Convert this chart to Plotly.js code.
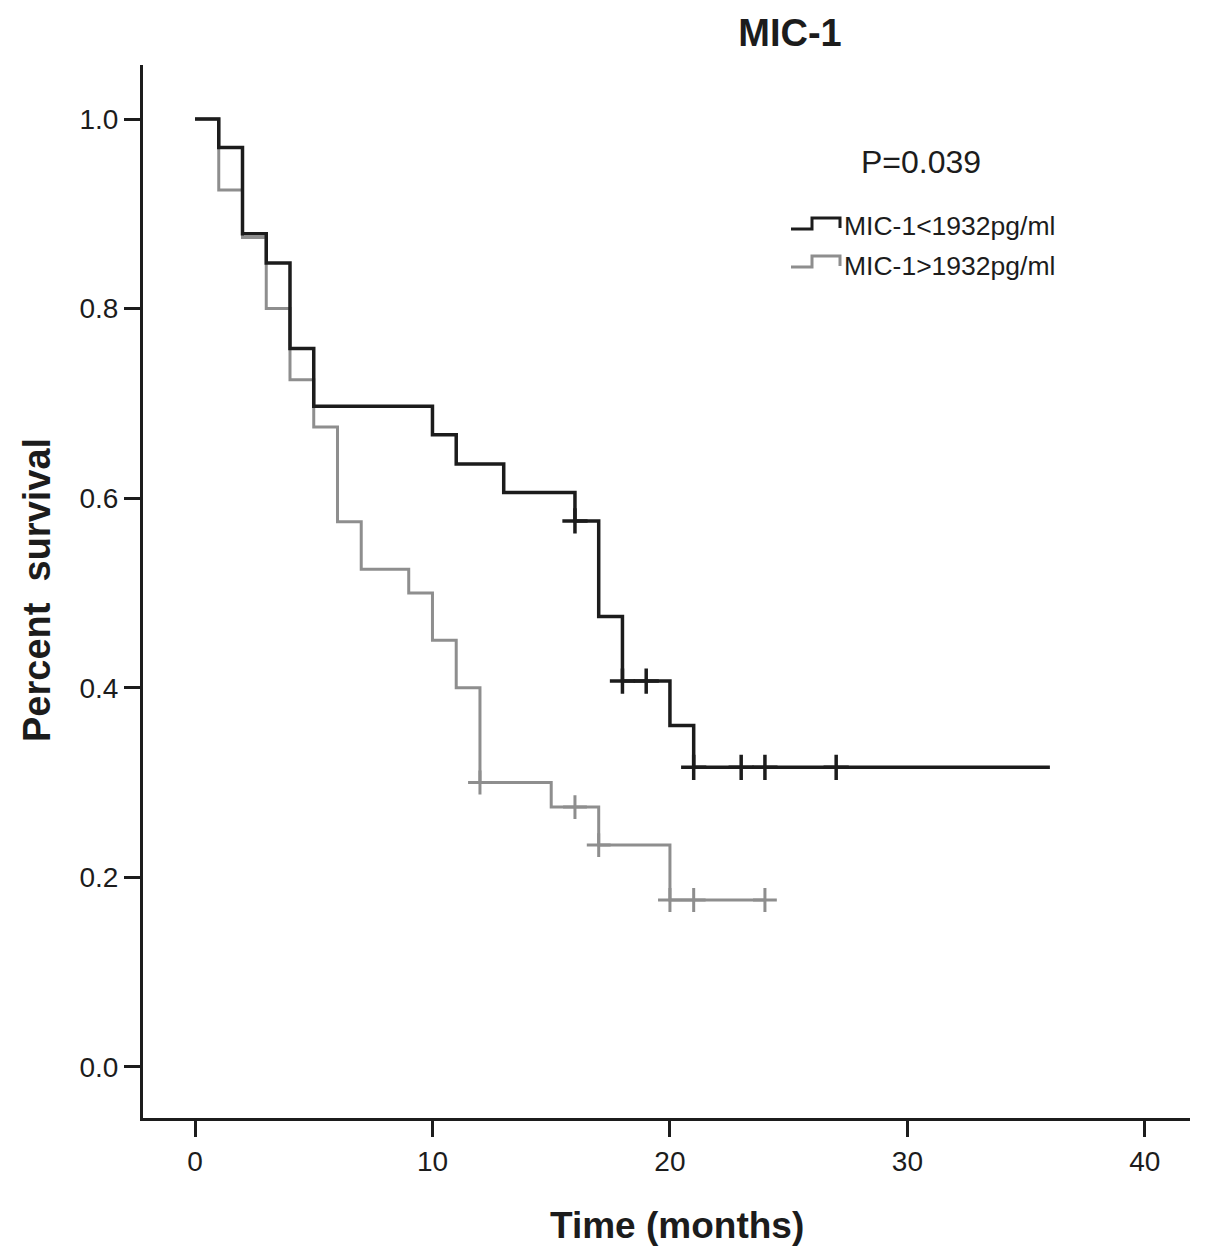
<!DOCTYPE html>
<html>
<head>
<meta charset="utf-8">
<script src="https://cdn.plot.ly/plotly-3.0.1.min.js"></script>
<style>
  html, body { margin: 0; padding: 0; background: #fff; }
  #km { width: 1205px; height: 1259px; }
</style>
</head>
<body>
<div id="km"></div>
<script>
// Kaplan-Meier steps
var timeLow = [0, 1, 2, 3, 4, 5, 10, 11, 13, 16, 17, 18, 20, 21, 36];
var survLow = [1.0, 0.970, 0.879, 0.848, 0.758, 0.697, 0.667, 0.636, 0.606, 0.576, 0.475, 0.407, 0.360, 0.316, 0.316];
var censLowT = [16, 18, 19, 21, 23, 24, 27];
var censLowS = [0.576, 0.407, 0.407, 0.316, 0.316, 0.316, 0.316];

var timeHigh = [0, 1, 2, 3, 4, 5, 6, 7, 9, 10, 11, 12, 15, 17, 20, 24];
var survHigh = [1.0, 0.925, 0.875, 0.800, 0.725, 0.675, 0.575, 0.525, 0.500, 0.450, 0.400, 0.300, 0.274, 0.234, 0.176, 0.176];
var censHighT = [12, 16, 17, 20, 21, 24];
var censHighS = [0.300, 0.274, 0.234, 0.176, 0.176, 0.176];

var groupNames = ['MIC-1&lt;1932pg/ml', 'MIC-1&gt;1932pg/ml'];
var xTicks = [0, 10, 20, 30, 40];
var yTicks = [0.0, 0.2, 0.4, 0.6, 0.8, 1.0];

var dark = '#1c1c1c';
var grey = '#8e8e8e';
var fontFam = 'Liberation Sans, Arial, sans-serif';

// plot area in pixels: left 143, right 1190, top 65, bottom 1118
function px(x) { return (x - 143) / 1047; }
function py(y) { return (1118 - y) / 1053; }

var data = [
  {x: timeHigh, y: survHigh, mode: 'lines', line: {shape: 'hv', color: grey, width: 3}},
  {x: censHighT, y: censHighS, mode: 'markers', marker: {symbol: 'cross-thin-open', size: 17, color: grey, line: {color: grey, width: 3}}},
  {x: timeLow, y: survLow, mode: 'lines', line: {shape: 'hv', color: dark, width: 3.5}},
  {x: censLowT, y: censLowS, mode: 'markers', marker: {symbol: 'cross-thin-open', size: 18, color: dark, line: {color: dark, width: 3.5}}}
];

function legendGlyph(y0, col) {
  return {type: 'path', xref: 'paper', yref: 'paper',
    path: 'M ' + px(791) + ' ' + py(y0) + ' L ' + px(812) + ' ' + py(y0) +
          ' L ' + px(812) + ' ' + py(y0 - 11) + ' L ' + px(840) + ' ' + py(y0 - 11) +
          ' L ' + px(840) + ' ' + py(y0 - 1),
    line: {color: col, width: 3}};
}

var layout = {
  width: 1205, height: 1259,
  paper_bgcolor: '#fff', plot_bgcolor: '#fff',
  showlegend: false,
  margin: {l: 143, r: 15, t: 65, b: 141},
  font: {family: fontFam, color: dark},
  title: {text: '<b>MIC-1</b>', font: {size: 38, color: dark, family: fontFam},
    xref: 'container', yref: 'container', x: 790 / 1205, y: 1 - 33 / 1259, xanchor: 'center', yanchor: 'middle'},
  xaxis: {range: [-2.19, 41.9], tickvals: xTicks, ticks: 'outside', ticklen: 16, tickwidth: 3, tickcolor: dark,
    showline: true, linewidth: 3, linecolor: dark, showgrid: false, zeroline: false,
    tickfont: {size: 28, color: dark}},
  yaxis: {range: [-0.054, 1.057], tickvals: yTicks, tickformat: '.1f', ticks: 'outside', ticklen: 16, tickwidth: 3, tickcolor: dark,
    showline: true, linewidth: 3, linecolor: dark, showgrid: false, zeroline: false,
    tickfont: {size: 28, color: dark}},
  shapes: [legendGlyph(229, dark), legendGlyph(267, grey)],
  annotations: [
    {text: '<b>Percent  survival</b>', xref: 'paper', yref: 'paper', x: px(37), y: py(590), textangle: -90,
      showarrow: false, font: {size: 38, color: dark}, xanchor: 'center', yanchor: 'middle'},
    {text: '<b>Time (months)</b>', xref: 'paper', yref: 'paper', x: px(677), y: py(1225),
      showarrow: false, font: {size: 37, color: dark}, xanchor: 'center', yanchor: 'middle'},
    {text: 'P=0.039', xref: 'paper', yref: 'paper', x: px(921), y: py(162),
      showarrow: false, font: {size: 32, color: dark}, xanchor: 'center', yanchor: 'middle'},
    {text: groupNames[0], xref: 'paper', yref: 'paper', x: px(842), y: py(226),
      showarrow: false, font: {size: 26.5, color: dark}, xanchor: 'left', yanchor: 'middle'},
    {text: groupNames[1], xref: 'paper', yref: 'paper', x: px(842), y: py(266),
      showarrow: false, font: {size: 26.5, color: dark}, xanchor: 'left', yanchor: 'middle'}
  ]
};

Plotly.newPlot('km', data, layout, {staticPlot: true});
</script>
</body>
</html>
